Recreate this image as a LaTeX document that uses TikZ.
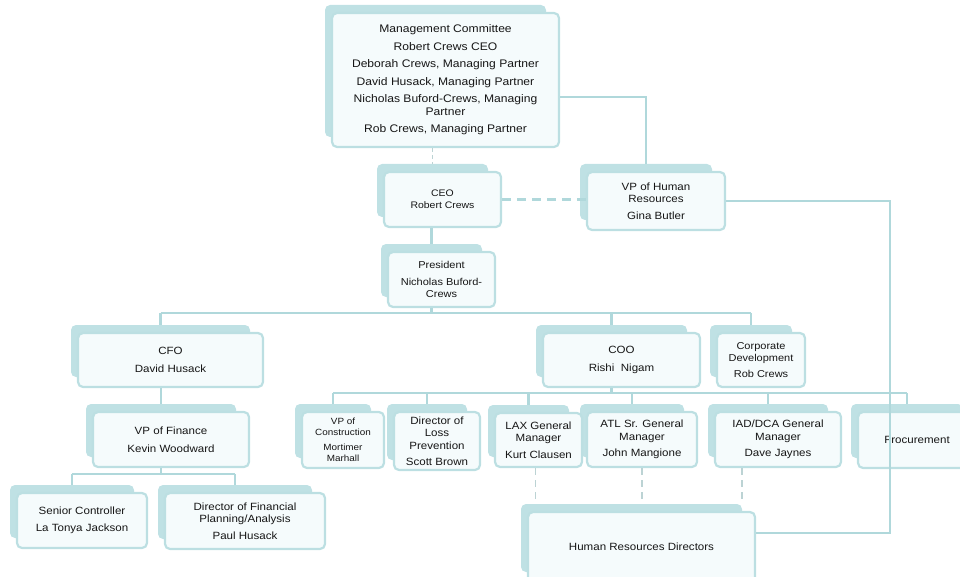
\documentclass[tikz,border=0pt]{standalone}
\usepackage{fontspec}
\setmainfont[FakeStretch=1.1]{Liberation Sans}
\usetikzlibrary{calc}
\definecolor{shad}{HTML}{BFE1E4}
\definecolor{bord}{HTML}{BCDFE2}
\definecolor{connc}{HTML}{B0D8DB}
\definecolor{dashc}{HTML}{BCD3D4}
\definecolor{boxfill}{HTML}{F5FBFC}
\definecolor{txt}{HTML}{161616}
\tikzset{
 orgbox/.style={draw=bord, line width=2.2pt, rounded corners=5pt, fill=boxfill, inner sep=0pt,
   align=center, text=txt, font=\fontsize{10.5}{12.5}\selectfont},
 shadowbox/.style={fill=shad, rounded corners=5pt},
 link/.style={draw=connc, line width=2.6pt},
 thinlink/.style={draw=connc, line width=1.6pt},
 dlink/.style={draw=dashc, line width=1.6pt, dash pattern=on 7pt off 5pt},
 teallink/.style={draw=connc, line width=2.6pt, dash pattern=on 9pt off 6pt},
}
\newcommand{\ob}[7][]{%
 \node[orgbox,minimum width={#5-#3},minimum height={#6-#4},#1] (#2) at ({(#3+#5)/2},{(#4+#6)/2}) {#7};
 \coordinate (S-#2) at ({(#3+#5)/2-10},{#4-8});}
\begin{document}
\begin{tikzpicture}[x=1pt,y=-1pt]
\useasboundingbox (0,0) rectangle (960,577);
\clip (0,0) rectangle (960,577);
% shadows
\foreach \l/\t/\r/\b in {332/13/559/147, 384/172/501/227, 587/172/725/230, 388/252/495/307,
  78/333/263/387, 543/333/700/387, 717/333/805/387, 93/412/249/467, 17/493/147/548,
  165/493/325/549, 302/412/384/468, 394/412/480/470, 495/413/582/467, 587/412/697/467,
  715/412/841/467, 858/412/976/468, 528/512/755/582}
  \fill[shadowbox] (\l-7,\t-8) rectangle (\r-13,\b-10);
% boxes
\ob[font=\fontsize{11}{12.5}\selectfont]{mc}{332}{13}{559}{147}{Management Committee\\[5pt]Robert Crews CEO\\[5pt]Deborah Crews, Managing Partner\\[5pt]David Husack, Managing Partner\\[5pt]Nicholas Buford-Crews, Managing\\Partner\\[5pt]Rob Crews, Managing Partner}
\ob[font=\fontsize{9.5}{12}\selectfont]{ceo}{384}{172}{501}{227}{CEO\\Robert Crews}
\ob{vphr}{587}{172}{725}{230}{VP of Human\\Resources\\[4pt]Gina Butler}
\ob[font=\fontsize{10}{12}\selectfont]{pres}{388}{252}{495}{307}{President\\[5pt]Nicholas Buford-\\Crews}
\ob{cfo}{78}{333}{263}{387}{CFO\\[5pt]David Husack}
\ob{coo}{543}{333}{700}{387}{COO\\[5pt]Rishi\ \ Nigam}
\ob[font=\fontsize{10}{12}\selectfont]{cd}{717}{333}{805}{387}{Corporate\\Development\\[4pt]Rob Crews}
\ob{vpf}{93}{412}{249}{467}{VP of Finance\\[5pt]Kevin Woodward}
\ob{sc}{17}{493}{147}{548}{Senior Controller\\[5pt]La Tonya Jackson}
\ob{dfpa}{165}{493}{325}{549}{Director of Financial\\Planning/Analysis\\[4pt]Paul Husack}
\ob[font=\fontsize{9}{10.5}\selectfont]{vpc}{302}{412}{384}{468}{VP of\\Construction\\[5pt]Mortimer\\Marhall}
\ob{dlp}{394}{412}{480}{470}{Director of\\Loss\\Prevention\\[4pt]Scott Brown}
\ob{lax}{495}{413}{582}{467}{LAX General\\Manager\\[4pt]Kurt Clausen}
\ob{atl}{587}{412}{697}{467}{ATL Sr. General\\Manager\\[4pt]John Mangione}
\ob{iad}{715}{412}{841}{467}{IAD/DCA General\\Manager\\[4pt]Dave Jaynes}
\ob{proc}{858}{412}{976}{468}{Frocurement}
\ob{hrd}{528}{512}{755}{582}{Human Resources Directors}
% helper levels
\coordinate (barA) at (0,313);
\coordinate (barB) at (0,393);
\coordinate (barC) at (0,474);
\coordinate (hrx) at (890,0);
\coordinate (hry) at (0,533);
% top connectors
\draw[dlink, dash pattern=on 4pt off 3pt] (S-ceo |- mc.south) -- (S-ceo);
\draw[thinlink] ([yshift=-17pt]mc.east) -| (S-vphr);
\draw[teallink] (ceo.east) -- (vphr.west |- ceo.east);
\draw[link] (S-pres |- ceo.south) -- (S-pres);
\draw[thinlink] (vphr.east) -- (hrx |- vphr.east) -- (hrx |- hry) -- (hrd.east |- hry);
% president level
\draw[link] (S-pres |- pres.south) -- (S-pres |- barA);
\draw[link] (S-cfo |- barA) -- (S-cd |- barA);
\foreach \n in {cfo,coo,cd} \draw[link] (S-\n |- barA) -- (S-\n);
% finance
\draw[link] (S-vpf |- cfo.south) -- (S-vpf);
\draw[link] (S-vpf |- vpf.south) -- (S-vpf |- barC);
\draw[link] (S-sc |- barC) -- (S-dfpa |- barC);
\foreach \n in {sc,dfpa} \draw[link] (S-\n |- barC) -- (S-\n);
% operations
\draw[link] (S-coo |- coo.south) -- (S-coo |- barB);
\draw[link] (S-vpc |- barB) -- (S-proc |- barB);
\foreach \n in {vpc,dlp,lax,atl,iad,proc} \draw[link] (S-\n |- barB) -- (S-\n);
% dashed lines to HR directors
\coordinate (laxd) at ([xshift=-3pt]lax.south);
\coordinate (atld) at (atl.south);
\coordinate (iadd) at ([xshift=-36pt]iad.south);
\foreach \n in {laxd,atld,iadd} \draw[dlink] (\n) -- (\n |- S-hrd);
\end{tikzpicture}
\end{document}
